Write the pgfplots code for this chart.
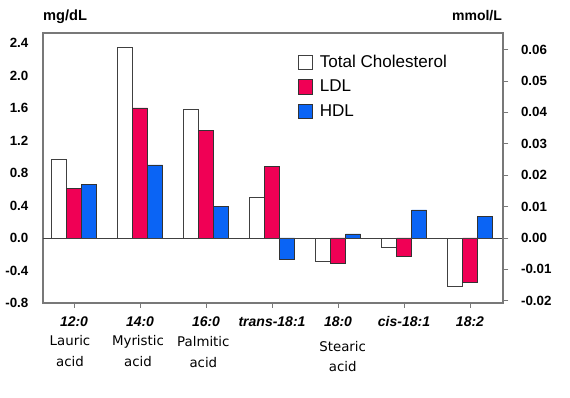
\documentclass[border=0pt]{standalone}
\usepackage{fontspec}
\setmainfont{Liberation Sans}
\newfontfamily\namefont{DejaVu Sans}
\usepackage{pgfplots}
\pgfplotsset{compat=1.18}
\definecolor{ldl}{RGB}{240,0,85}
\definecolor{hdl}{RGB}{10,100,245}
\definecolor{framec}{RGB}{120,120,120}
\begin{document}
\begin{tikzpicture}
\useasboundingbox (0,0) rectangle (427.5pt,298.5pt);
\begin{axis}[
  at={(32.25pt,71.25pt)}, anchor=south west,
  scale only axis, width=345pt, height=202.5pt,
  xmin=-0.47, xmax=6.5, ymin=-0.8, ymax=2.523,
  ybar=0pt, bar width=11.25pt,
  axis line style={framec, line width=0.8pt},
  xtick={0,1,2,3,4,5,6},
  xticklabels={12:0,14:0,16:0,trans-18:1,18:0,cis-18:1,18:2},
  xtick pos=bottom, tick align=outside,
  major tick length=3.5pt,
  x tick style={framec, line width=0.6pt},
  x tick label style={font=\fontsize{10.5}{12}\selectfont\bfseries\itshape, yshift=-3pt},
  ytick={-0.8,-0.4,0,0.4,0.8,1.2,1.6,2.0,2.4},
  ytick pos=left,
  y tick style={draw=none},
  y tick label style={font=\fontsize{10}{12}\selectfont\bfseries, xshift=-4pt},
  y tick label style={/pgf/number format/fixed, /pgf/number format/fixed zerofill,
     /pgf/number format/precision=1, /pgf/number format/assume math mode=true},
  legend style={at={(0.553,0.929)}, anchor=north west, draw=none, fill=none,
     font=\fontsize{12.8}{14}\selectfont, row sep=4pt, inner sep=0pt,
     legend cell align=left},
  legend image code/.code={\draw[#1] (0pt,-5.5pt) rectangle (11pt,5.5pt); \path (14pt,0pt);},
]
\addplot[draw=black!75, fill=white, line width=0.6pt] coordinates
  {(0,0.97) (1,2.34) (2,1.58) (3,0.50) (4,-0.29) (5,-0.12) (6,-0.59)};
\addplot[draw=black!80, fill=ldl, line width=0.5pt] coordinates
  {(0,0.61) (1,1.60) (2,1.32) (3,0.88) (4,-0.31) (5,-0.23) (6,-0.55)};
\addplot[draw=black!80, fill=hdl, line width=0.5pt] coordinates
  {(0,0.66) (1,0.90) (2,0.39) (3,-0.26) (4,0.05) (5,0.345) (6,0.27)};
\legend{Total Cholesterol, LDL, HDL}
\draw[black!75, line width=0.6pt] (axis cs:-0.47,0) -- (axis cs:6.5,0);
\end{axis}
\begin{axis}[
  at={(32.25pt,71.25pt)}, anchor=south west,
  scale only axis, width=345pt, height=202.5pt,
  xmin=-0.47, xmax=6.5, ymin=-0.02069, ymax=0.06525,
  axis x line=none, axis y line*=right,
  axis line style={framec, line width=0.8pt},
  ytick={-0.02,-0.01,0,0.01,0.02,0.03,0.04,0.05,0.06},
  scaled y ticks=false,
  tick align=outside, major tick length=4pt,
  y tick style={framec, line width=0.6pt},
  y tick label style={font=\fontsize{10}{12}\selectfont\bfseries, xshift=6pt},
  y tick label style={/pgf/number format/fixed, /pgf/number format/fixed zerofill,
     /pgf/number format/precision=2, /pgf/number format/assume math mode=true},
]
\end{axis}
\node[font=\fontsize{11}{12}\selectfont\bfseries] at (48.75pt,285.75pt) {mg/dL};
\node[font=\fontsize{10.5}{12}\selectfont\bfseries] at (357.75pt,286.5pt) {mmol/L};
\node[font=\namefont\fontsize{10}{15.5}\selectfont, align=center] at (52.5pt,35pt) {Lauric\\acid};
\node[font=\namefont\fontsize{10}{15.5}\selectfont, align=center] at (103.5pt,35pt) {Myristic\\acid};
\node[font=\namefont\fontsize{10}{15.5}\selectfont, align=center] at (152.5pt,34.5pt) {Palmitic\\acid};
\node[font=\namefont\fontsize{10}{15.5}\selectfont, align=center] at (257pt,31pt) {Stearic\\acid};
\end{tikzpicture}
\end{document}
